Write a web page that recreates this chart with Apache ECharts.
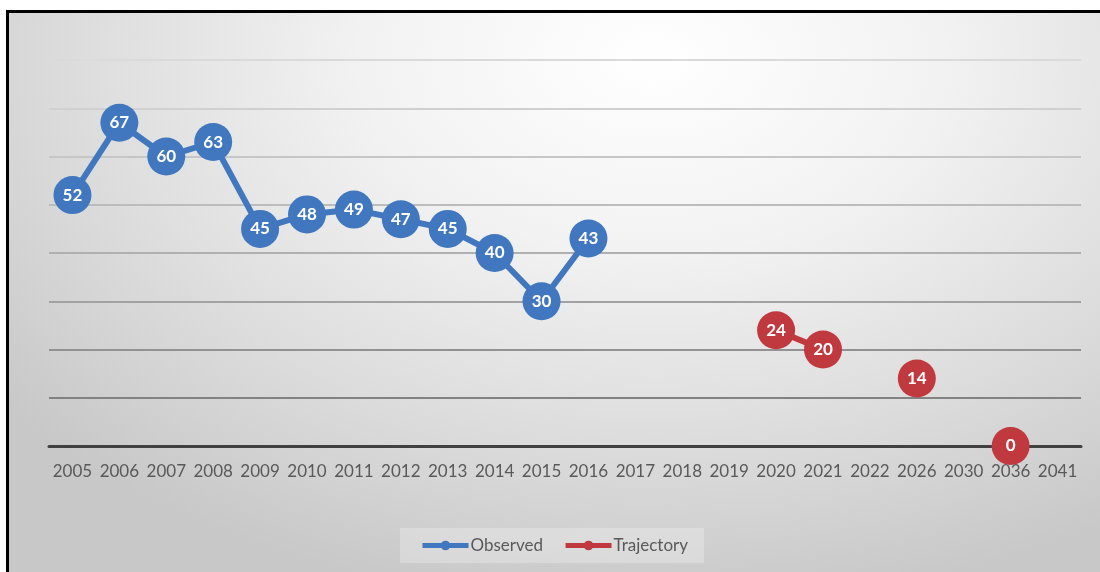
<!DOCTYPE html>
<html>
<head>
<meta charset="utf-8">
<script src="https://cdn.jsdelivr.net/npm/echarts@6/dist/echarts.min.js"></script>
<style>
  html, body { margin: 0; padding: 0; background: #fff; overflow: hidden; }
  #frame {
    position: absolute; left: 6px; top: 10px; width: 1110px; height: 580px;
    border-left: 3px solid #000; border-top: 3px solid #000;
    background: radial-gradient(ellipse 75% 95% at 58% 8%, #ffffff 0%, #f2f2f2 35%, #dcdcdc 70%, #c8c8c8 100%);
  }
  #chart { position: absolute; left: 0; top: 0; width: 1100px; height: 572px; }
</style>
</head>
<body>
<div id="frame"></div>
<div id="chart"></div>
<script>
  var years = ['2005','2006','2007','2008','2009','2010','2011','2012','2013','2014','2015','2016',
               '2017','2018','2019','2020','2021','2022','2026','2030','2036','2041'];
  var observed = [52,67,60,63,45,48,49,47,45,40,30,43,
                  null,null,null,null,null,null,null,null,null,null];
  var trajectory = [null,null,null,null,null,null,null,null,null,null,null,null,
                    null,null,null,24,20,null,14,null,0,null];

  var blue = '#4177be';
  var red = '#c0393f';

  var chart = echarts.init(document.getElementById('chart'));

  function lineSeries(name, data, color) {
    return {
      name: name,
      type: 'line',
      data: data,
      connectNulls: false,
      symbol: 'circle',
      symbolSize: 38,
      lineStyle: { color: color, width: 6 },
      itemStyle: { color: color },
      label: {
        show: true,
        position: 'inside',
        color: '#fff',
        fontWeight: 'bold',
        fontSize: 17,
        fontFamily: 'Lato'
      },
      emphasis: { disabled: true },
      animation: false
    };
  }

  chart.setOption({
    backgroundColor: 'transparent',
    textStyle: { fontFamily: 'Lato' },
    grid: { left: 49, right: 19, top: 60, bottom: 126, containLabel: false },
    legend: {
      left: 400,
      top: 528,
      padding: [9, 16, 9, 20],
      backgroundColor: 'rgba(255,255,255,0.25)',
      itemWidth: 46,
      itemHeight: 12,
      itemGap: 20,
      lineStyle: { width: 5 },
      textStyle: { color: '#595959', fontSize: 17, fontFamily: 'Lato', padding: [0, 0, 0, -3] },
      data: ['Observed', 'Trajectory']
    },
    xAxis: {
      type: 'category',
      data: years,
      boundaryGap: true,
      axisLine: { show: true, lineStyle: { color: '#404040', width: 3 } },
      axisTick: { show: false },
      axisLabel: { color: '#595959', fontSize: 17, margin: 17, interval: 0, fontFamily: 'Lato' }
    },
    yAxis: {
      type: 'value',
      min: 0,
      max: 80,
      interval: 10,
      axisLine: { show: false },
      axisTick: { show: false },
      axisLabel: { show: false },
      splitLine: {
        show: true,
        lineStyle: {
          width: 2,
          color: ['#404040','#828282','#929292','#a2a2a2','#b0b0b0','#bcbcbc','#c6c6c6','#d0d0d0','#dadada']
        }
      }
    },
    series: [
      lineSeries('Observed', observed, blue),
      lineSeries('Trajectory', trajectory, red)
    ]
  });
</script>
</body>
</html>
